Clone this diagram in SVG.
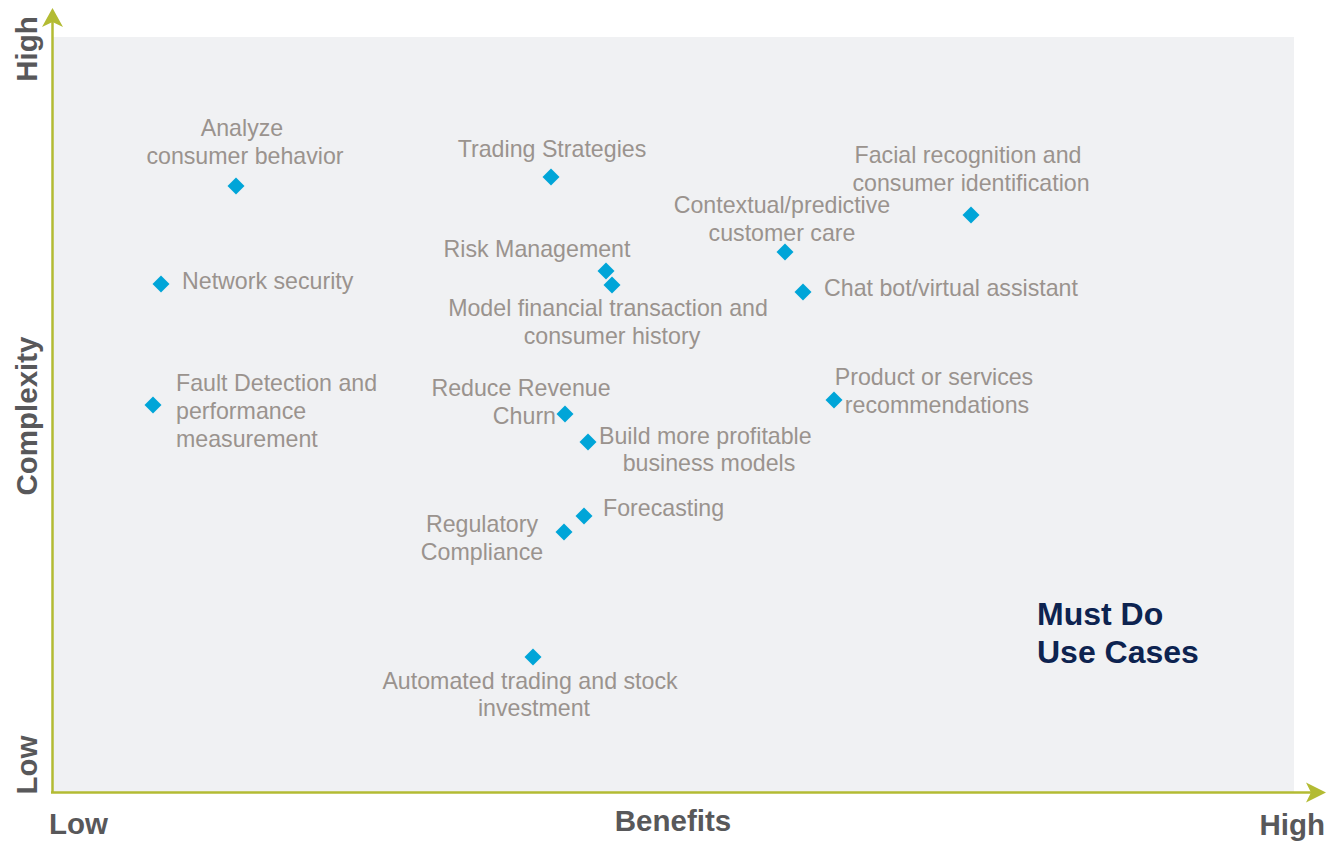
<svg xmlns="http://www.w3.org/2000/svg" xmlns:xlink="http://www.w3.org/1999/xlink" width="1335" height="843" viewBox="0 0 1335 843">
<style>
.lbl{font-family:"Liberation Sans",Arial,sans-serif;font-size:23.2px;fill:#9a938e;}
.ax{font-family:"Liberation Sans",Arial,sans-serif;font-size:29.5px;font-weight:bold;fill:#58585a;}
.must{font-family:"Liberation Sans",Arial,sans-serif;font-size:32px;font-weight:bold;fill:#0d2350;}
.axis{stroke:#b3bb33;stroke-width:2.5;fill:none;}
.head{fill:#b3bb33;}
.dm{fill:#00a5d8;}
</style>
<defs>
<path id="d" d="M0,-8.5 L8.5,0 L0,8.5 L-8.5,0 Z"/>
</defs>
<rect x="53" y="37" width="1241" height="755" fill="#f0f1f3"/>
<g id="connectors">
<line class="axis" x1="52.5" y1="793" x2="52.5" y2="22"/>
<path class="head" d="M52.5,8 L63,27 L52.5,22 L42,27 Z"/>
<line class="axis" x1="51" y1="792.5" x2="1312" y2="792.5"/>
<path class="head" d="M1326,792.5 L1306,802.5 L1311,792.5 L1306,782.5 Z"/>
</g>
<g id="axis-labels">
<text class="ax" transform="translate(37,49) rotate(-90)" text-anchor="middle">High</text>
<text class="ax" transform="translate(37,416) rotate(-90)" text-anchor="middle">Complexity</text>
<text class="ax" transform="translate(37,765) rotate(-90)" text-anchor="middle">Low</text>
<text class="ax" x="49" y="834">Low</text>
<text class="ax" x="673" y="831" text-anchor="middle">Benefits</text>
<text class="ax" x="1325" y="835" text-anchor="end">High</text>
</g>
<g id="must-do">
<text class="must" x="1037" y="625">Must Do</text>
<text class="must" x="1037" y="663">Use Cases</text>
</g>
<g id="n-analyze"><use class="dm" xlink:href="#d" x="236" y="186"/><text class="lbl" text-anchor="middle" x="242" y="136">Analyze</text><text class="lbl" text-anchor="middle" x="245" y="164">consumer behavior</text></g>
<g id="n-trading"><use class="dm" xlink:href="#d" x="551" y="177"/><text class="lbl" text-anchor="middle" x="552" y="157">Trading Strategies</text></g>
<g id="n-facial"><use class="dm" xlink:href="#d" x="971" y="215"/><text class="lbl" text-anchor="middle" x="968" y="163">Facial recognition and</text><text class="lbl" text-anchor="middle" x="971" y="191">consumer identification</text></g>
<g id="n-contextual"><use class="dm" xlink:href="#d" x="785" y="252"/><text class="lbl" text-anchor="middle" x="782" y="213">Contextual/predictive</text><text class="lbl" text-anchor="middle" x="782" y="241">customer care</text></g>
<g id="n-risk"><use class="dm" xlink:href="#d" x="606" y="271"/><text class="lbl" text-anchor="middle" x="537" y="257">Risk Management</text></g>
<g id="n-model"><use class="dm" xlink:href="#d" x="612" y="285"/><text class="lbl" text-anchor="middle" x="608" y="316">Model financial transaction and</text><text class="lbl" text-anchor="middle" x="612" y="344">consumer history</text></g>
<g id="n-network"><use class="dm" xlink:href="#d" x="161" y="284"/><text class="lbl" x="182" y="289">Network security</text></g>
<g id="n-chatbot"><use class="dm" xlink:href="#d" x="803" y="292"/><text class="lbl" x="824" y="296">Chat bot/virtual assistant</text></g>
<g id="n-fault"><use class="dm" xlink:href="#d" x="153" y="405"/><text class="lbl" x="176" y="391">Fault Detection and</text><text class="lbl" x="176" y="419">performance</text><text class="lbl" x="176" y="447">measurement</text></g>
<g id="n-product"><use class="dm" xlink:href="#d" x="834" y="400"/><text class="lbl" text-anchor="middle" x="934" y="385">Product or services</text><text class="lbl" text-anchor="middle" x="937" y="413">recommendations</text></g>
<g id="n-churn"><use class="dm" xlink:href="#d" x="565" y="414"/><text class="lbl" text-anchor="middle" x="521" y="396">Reduce Revenue</text><text class="lbl" text-anchor="end" x="556" y="424">Churn</text></g>
<g id="n-build"><use class="dm" xlink:href="#d" x="588" y="442"/><text class="lbl" x="599" y="444">Build more profitable</text><text class="lbl" text-anchor="middle" x="709" y="471">business models</text></g>
<g id="n-forecasting"><use class="dm" xlink:href="#d" x="584" y="516"/><text class="lbl" x="603" y="516">Forecasting</text></g>
<g id="n-regulatory"><use class="dm" xlink:href="#d" x="564" y="532"/><text class="lbl" text-anchor="middle" x="482" y="532">Regulatory</text><text class="lbl" text-anchor="middle" x="482" y="560">Compliance</text></g>
<g id="n-automated"><use class="dm" xlink:href="#d" x="533" y="657"/><text class="lbl" text-anchor="middle" x="530" y="689">Automated trading and stock</text><text class="lbl" text-anchor="middle" x="534" y="716">investment</text></g>
</svg>
